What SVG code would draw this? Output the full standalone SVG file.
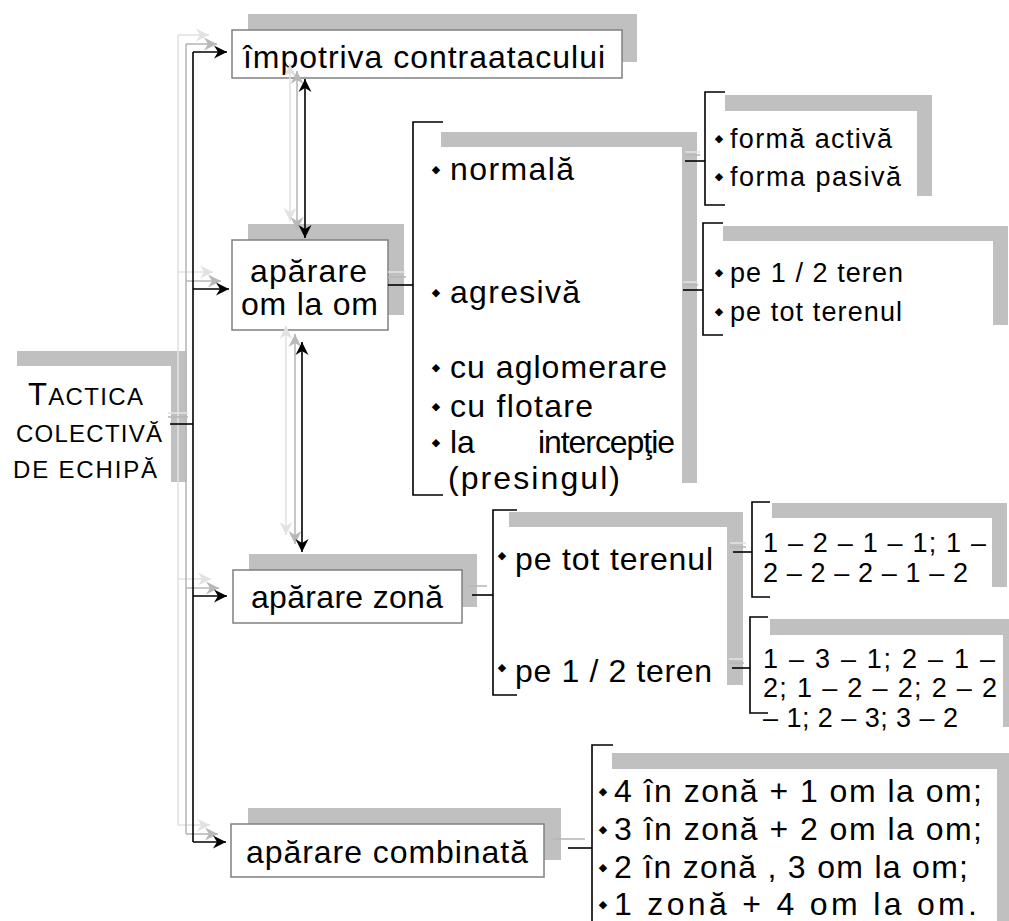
<svg xmlns="http://www.w3.org/2000/svg" width="1009" height="921" viewBox="0 0 1009 921">
<style>
.bg{fill:#ffffff}
.sh{fill:#c0c0c0}
.box{fill:#ffffff;stroke:#808080;stroke-width:1.5}
.t{font-family:"Liberation Sans",Arial,sans-serif;fill:#000000}
.big{font-size:32px}
.mid{font-size:27px}
.bul{font-family:"DejaVu Sans",sans-serif;font-size:11px;fill:#000000;text-anchor:middle}
.ln{fill:none;stroke:#000000;stroke-width:1.6}
.g1{fill:none;stroke:#b8b8b8;stroke-width:1.6}
.g2{fill:none;stroke:#e2e2e2;stroke-width:1.6}
.ab{marker-end:url(#ahB)}
.ag1{marker-end:url(#ahG)}
.ag2{marker-end:url(#ahL)}
.dab{marker-start:url(#ahB);marker-end:url(#ahB)}
.dag1{marker-start:url(#ahG);marker-end:url(#ahG)}
.dag2{marker-start:url(#ahL);marker-end:url(#ahL)}
</style>
<defs>
<marker id="ahB" viewBox="-14 -7 15 14" refX="0" refY="0" markerWidth="15" markerHeight="14" markerUnits="userSpaceOnUse" orient="auto-start-reverse"><path d="M0,0 L-13,-6.5 L-9,0 L-13,6.5 z" fill="#000000"/></marker>
<marker id="ahG" viewBox="-14 -7 15 14" refX="0" refY="0" markerWidth="15" markerHeight="14" markerUnits="userSpaceOnUse" orient="auto-start-reverse"><path d="M0,0 L-13,-6.5 L-9,0 L-13,6.5 z" fill="#b8b8b8"/></marker>
<marker id="ahL" viewBox="-14 -7 15 14" refX="0" refY="0" markerWidth="15" markerHeight="14" markerUnits="userSpaceOnUse" orient="auto-start-reverse"><path d="M0,0 L-13,-6.5 L-9,0 L-13,6.5 z" fill="#e2e2e2"/></marker>
</defs>
<rect class="bg" x="0" y="0" width="1009" height="921"/>

<g id="root">
<path class="sh" d="M17,351 H187 V482 H171 V366 H17 z"/>
<text class="t" x="28" y="405" textLength="115"><tspan font-size="31">T</tspan><tspan font-size="24">ACTICA</tspan></text>
<text class="t" x="16" y="442" font-size="24" textLength="146">COLECTIVĂ</text>
<text class="t" x="13" y="478" font-size="24" textLength="144">DE ECHIPĂ</text>
</g>

<g id="n-contraatac">
<rect class="sh" x="248" y="14" width="389" height="48"/>
<rect class="box" x="232" y="30" width="390" height="48"/>
<text class="t big" x="243" y="68" textLength="362">împotriva contraatacului</text>
</g>

<g id="n-omlaom">
<rect class="sh" x="248" y="224" width="156" height="91"/>
<rect class="box" x="232" y="240" width="156" height="90"/>
<text class="t big" x="250" y="282" textLength="117">apărare</text>
<text class="t big" x="241" y="315" textLength="137">om la om</text>
</g>

<g id="n-zona">
<rect class="sh" x="249" y="554" width="228" height="53"/>
<rect class="box" x="233" y="570" width="229" height="53"/>
<text class="t big" x="251" y="608" textLength="192">apărare zonă</text>
</g>

<g id="n-combinata">
<rect class="sh" x="248" y="808" width="313" height="52"/>
<rect class="box" x="231" y="824" width="313" height="53"/>
<text class="t big" x="246" y="863" textLength="282">apărare combinată</text>
</g>

<g id="l-omlaom">
<path class="sh" d="M441,132 H697 V483 H682 V147 H441 z"/>
<text class="bul" x="436" y="173">◆</text>
<text class="t big" x="450" y="180" textLength="124">normală</text>
<text class="bul" x="436" y="296">◆</text>
<text class="t big" x="450" y="303" textLength="130">agresivă</text>
<text class="bul" x="436" y="371">◆</text>
<text class="t big" x="450" y="378" textLength="217">cu aglomerare</text>
<text class="bul" x="436" y="410">◆</text>
<text class="t big" x="450" y="417" textLength="143">cu flotare</text>
<text class="bul" x="436" y="446">◆</text>
<text class="t big" x="450" y="453">la</text>
<text class="t big" x="538" y="453" textLength="137">intercepţie</text>
<text class="t big" x="448" y="489" textLength="172">(presingul)</text>
</g>

<g id="l-normala">
<path class="sh" d="M725,95 H932 V196 H917 V111 H725 z"/>
<text class="bul" x="719" y="142">◆</text>
<text class="t mid" x="730" y="148" textLength="162">formă activă</text>
<text class="bul" x="719" y="180">◆</text>
<text class="t mid" x="730" y="186" textLength="171">forma pasivă</text>
</g>

<g id="l-agresiva">
<path class="sh" d="M723,226 H1008 V325 H993 V241 H723 z"/>
<text class="bul" x="719" y="276">◆</text>
<text class="t mid" x="730" y="282" textLength="173">pe 1 / 2 teren</text>
<text class="bul" x="719" y="315">◆</text>
<text class="t mid" x="730" y="321" textLength="172">pe tot terenul</text>
</g>

<g id="l-zona">
<path class="sh" d="M509,512 H743 V685 H727 V527 H509 z"/>
<text class="bul" x="502" y="559">◆</text>
<text class="t big" x="515" y="570" textLength="198">pe tot terenul</text>
<text class="bul" x="502" y="671">◆</text>
<text class="t big" x="515" y="682" textLength="197">pe 1 / 2 teren</text>
</g>

<g id="l-tot">
<path class="sh" d="M772,503 H1007 V587 H992 V518 H772 z"/>
<text class="t mid" x="763" y="552" textLength="223">1 – 2 – 1 – 1; 1 –</text>
<text class="t mid" x="763" y="582" textLength="205">2 – 2 – 2 – 1 – 2</text>
</g>

<g id="l-jumatate">
<path class="sh" d="M770,619 H1018 V727 H1003 V635 H770 z"/>
<text class="t mid" x="763" y="668" textLength="232">1 – 3 – 1; 2 – 1 –</text>
<text class="t mid" x="763" y="697" textLength="234">2; 1 – 2 – 2; 2 – 2</text>
<text class="t mid" x="763" y="727" textLength="195">– 1; 2 – 3; 3 – 2</text>
</g>

<g id="l-combinata">
<path class="sh" d="M612,753 H1012 V921 H997 V769 H612 z"/>
<text class="bul" x="603" y="795">◆</text>
<text class="t big" x="614" y="802" textLength="368">4 în zonă + 1 om la om;</text>
<text class="bul" x="603" y="833">◆</text>
<text class="t big" x="614" y="840" textLength="368">3 în zonă + 2 om la om;</text>
<text class="bul" x="603" y="871">◆</text>
<text class="t big" x="614" y="878" textLength="354">2 în zonă , 3 om la om;</text>
<text class="bul" x="603" y="908">◆</text>
<text class="t big" x="614" y="915" textLength="363">1 zonă + 4 om la om.</text>
</g>

<g id="connectors">
<path class="g2" d="M178,35 V825"/>
<path class="g2 ag2" d="M178,35 H209"/>
<path class="g2 ag2" d="M178,272 H213"/>
<path class="g2 ag2" d="M178,579 H211"/>
<path class="g2 ag2" d="M178,825 H210"/>
<path class="g1" d="M186,44 V834"/>
<path class="g1 ag1" d="M186,44 H217"/>
<path class="g1 ag1" d="M186,281 H221"/>
<path class="g1 ag1" d="M186,588 H219"/>
<path class="g1 ag1" d="M186,834 H218"/>
<path class="ln" d="M193,52 V842"/>
<path class="ln ab" d="M193,52 H227"/>
<path class="ln ab" d="M193,289 H229"/>
<path class="ln ab" d="M193,596 H227"/>
<path class="ln ab" d="M193,842 H226"/>
<path class="g2" d="M168,413 H188"/>
<path class="g1" d="M168,417 H188"/>
<path class="ln" d="M170,424 H193"/>
<path class="g2 dag2" d="M290,64 V221"/>
<path class="g1 dag1" d="M297,71 V230"/>
<path class="ln dab" d="M305,79 V238"/>
<path class="g2 dag2" d="M286,326 V535"/>
<path class="g1 dag1" d="M295,334 V544"/>
<path class="ln dab" d="M302,342 V552"/>
<path class="g2" d="M388,272 H405"/>
<path class="g1" d="M388,277 H406"/>
<path class="ln" d="M388,285 H413"/>
<path class="ln" d="M443,122 H413 V495 H443"/>
<path class="g2" d="M685,152 H700"/>
<path class="g1" d="M685,155 H700"/>
<path class="ln" d="M685,161 H705"/>
<path class="ln" d="M725,92 H705 V205 H725"/>
<path class="g2" d="M683,282 H698"/>
<path class="g1" d="M683,285 H698"/>
<path class="ln" d="M683,290 H703"/>
<path class="ln" d="M723,223 H703 V335 H723"/>
<path class="g1" d="M467,586 H487"/>
<path class="ln" d="M472,595 H493"/>
<path class="ln" d="M517,510 H493 V695 H517"/>
<path class="g2" d="M730,543 H746"/>
<path class="g1" d="M730,547 H746"/>
<path class="ln" d="M733,552 H752"/>
<path class="ln" d="M770,502 H752 V597 H770"/>
<path class="g2" d="M729,659 H744"/>
<path class="g1" d="M729,663 H744"/>
<path class="ln" d="M732,668 H750"/>
<path class="ln" d="M768,617 H750 V713 H768"/>
<path class="g1" d="M553,839 H585"/>
<path class="ln" d="M568,848 H592"/>
<path class="ln" d="M613,745 H592 V921"/>
</g>
</svg>
